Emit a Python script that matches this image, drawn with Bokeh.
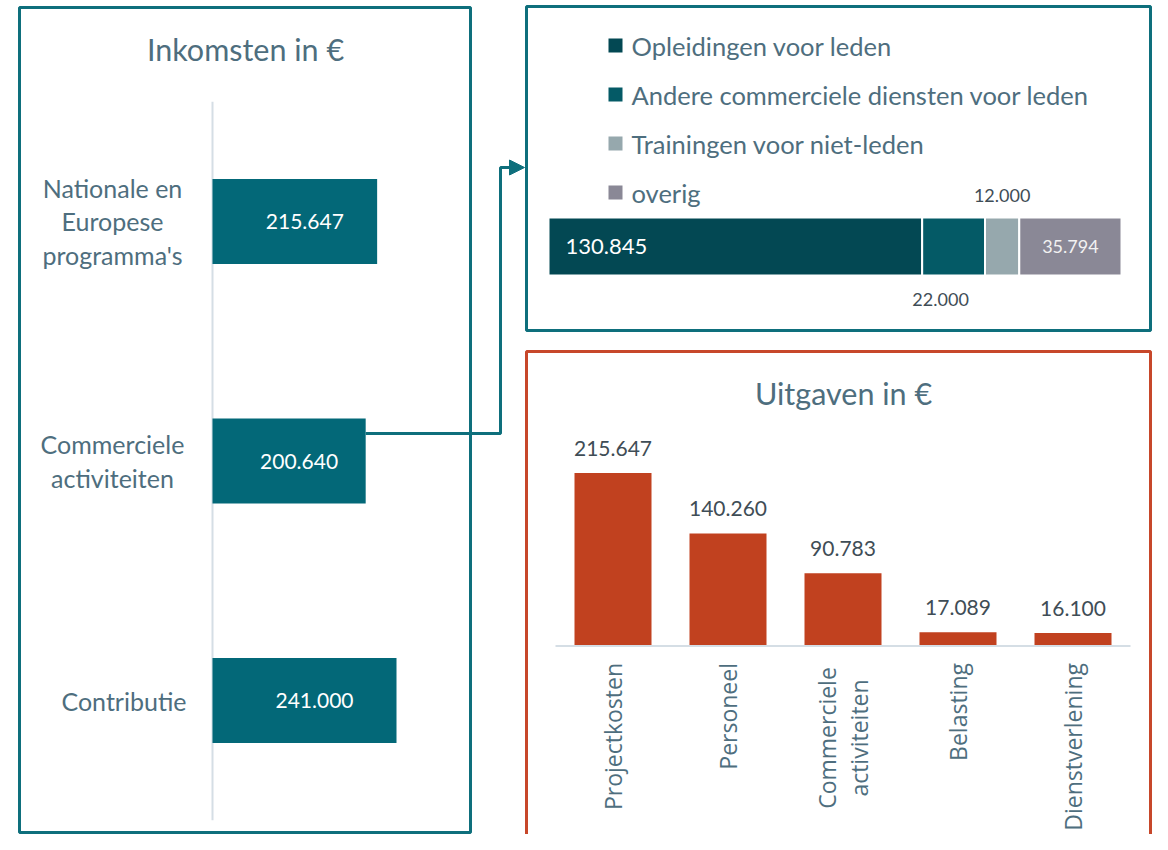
import numpy as np
from bokeh.plotting import figure
from bokeh.models import Range1d, Arrow, NormalHead
from bokeh.core.properties import value
from bokeh.embed import file_html
from bokeh.resources import INLINE

# ---------------- data ----------------
inc_categories = ["Nationale en\nEuropese\nprogramma's", "Commerciele\nactiviteiten", "Contributie"]
inc_values = [215647, 200640, 241000]

com_categories = ["Opleidingen voor leden", "Andere commerciele diensten voor leden",
                  "Trainingen voor niet-leden", "overig"]
com_values = [130845, 22000, 12000, 35794]

exp_categories = ["Projectkosten", "Personeel", "Commerciele\nactiviteiten", "Belasting", "Dienstverlening"]
exp_values = [215647, 140260, 90783, 17089, 16100]

inc_title = "Inkomsten in €"
exp_title = "Uitgaven in €"

# ---------------- styles ----------------
TEAL = "#036878"
BORDER_TEAL = "#0e6f7c"
ORANGE = "#c1411f"
BORDER_ORANGE = "#c7472a"
TXT = "#4e6e7e"
DARK_TXT = "#3f4d56"
AXIS = "#d5dee5"
COM_COLORS = ["#034853", "#045a66", "#96a8ad", "#8a8896"]
FONT = value("Lato")
FONT2 = value("Open Sans")


def fmt(v):
    return f"{v:,}".replace(",", ".")


W, H = 1152, 834
PL, PT = 0, 0
PR, PB = PL + W, PT + H


def xr(d0, p0, s):
    return Range1d(d0 + (PL - p0) / s, d0 + (PR - p0) / s)


def yr_up(d0, p0, s):
    return Range1d(d0 + (p0 - PB) / s, d0 + (p0 - PT) / s)


def yr_down(d0, p0, s):
    return Range1d(d0 + (PB - p0) / s, d0 + (PT - p0) / s)


p = figure(width=W, height=H, output_backend="svg", toolbar_location=None,
           x_range=Range1d(PL, PR), y_range=Range1d(PB, PT),
           x_axis_location=None, y_axis_location=None, min_border=0,
           outline_line_color=None)
p.grid.visible = False
p.background_fill_color = "white"
p.border_fill_color = "white"

# scales
s_inc = 184 / max(inc_values)
s_com = 573 / sum(com_values)
s_exp = 173 / max(exp_values)
p.extra_x_ranges = {
    "inc": xr(0, 212, s_inc),
    "com": xr(0, 548, s_com),
    "exp": xr(0, 612.5, 115),
}
p.extra_y_ranges = {
    "inc": yr_down(0, 221, 239.5),
    "com": yr_down(0, 246, 100),
    "leg": yr_down(0, 45, 49),
    "exp": yr_up(0, 645.5, s_exp),
}

# ---------------- panel frames ----------------
p.quad(left=[19, 526, 526], right=[470, 1150, 1150], top=[7, 6, 351], bottom=[832, 330, 900],
       fill_color=None, line_color=[BORDER_TEAL, BORDER_TEAL, BORDER_ORANGE], line_width=3)

# ---------------- income panel ----------------
p.text(x=[245], y=[48], text=[inc_title], text_font=FONT, text_font_size="30.5px",
       text_color=TXT, text_align="center", text_baseline="middle")

inc_idx = list(range(len(inc_categories)))
p.segment(x0=[0], x1=[0], y0=[-0.5], y1=[len(inc_categories) - 0.5], line_color=AXIS,
          line_width=2, x_range_name="inc", y_range_name="inc")
p.hbar(y=inc_idx, left=0, right=inc_values, height=85 / 239.5, fill_color=TEAL, line_color=None,
       x_range_name="inc", y_range_name="inc")
p.text(x=[v / 2 for v in inc_values], y=inc_idx, text=[fmt(v) for v in inc_values],
       x_offset=10, text_font=FONT, text_font_size="21px", text_color="white",
       text_align="center", text_baseline="middle", x_range_name="inc", y_range_name="inc")

multi = [i for i, c in enumerate(inc_categories) if "\n" in c]
single = [i for i, c in enumerate(inc_categories) if "\n" not in c]
p.text(x=[0] * len(multi), y=multi, text=[inc_categories[i] for i in multi], x_offset=-100,
       text_font=FONT, text_font_size="25px", text_color=TXT, text_align="center",
       text_baseline="middle", text_line_height=1.12, x_range_name="inc", y_range_name="inc")
p.text(x=[0] * len(single), y=single, text=[inc_categories[i] for i in single], x_offset=-26,
       text_font=FONT, text_font_size="25px", text_color=TXT, text_align="right",
       text_baseline="middle", x_range_name="inc", y_range_name="inc")

# connector arrow from "Commerciele activiteiten" bar to the breakdown panel
x_start = 212 + inc_values[1] * s_inc
p.line(x=[x_start, 500, 500, 511], y=[433, 433, 167, 167], line_color=BORDER_TEAL, line_width=3)
p.add_layout(Arrow(end=NormalHead(size=15, fill_color=BORDER_TEAL, line_color=BORDER_TEAL),
                   x_start=508, y_start=167, x_end=524, y_end=167,
                   line_color=BORDER_TEAL, line_width=3))

# ---------------- commercial breakdown panel ----------------
cum = np.cumsum([0] + com_values)
lefts, rights = cum[:-1], cum[1:]
mids = (lefts + rights) / 2
p.hbar(y=[0] * len(com_values), left=lefts, right=rights, height=0.58, fill_color=COM_COLORS,
       line_color="white", line_width=2, x_range_name="com", y_range_name="com")

leg_idx = list(range(len(com_categories)))
p.scatter(x=[615] * len(leg_idx), y=leg_idx, marker="square", size=14, fill_color=COM_COLORS,
          line_color=None, y_range_name="leg")
p.text(x=[631] * len(leg_idx), y=leg_idx, text=com_categories, text_font=FONT,
       text_font_size="25.5px", text_color=TXT, text_align="left", text_baseline="middle",
       y_range_name="leg")

lab = [fmt(v) for v in com_values]
p.text(x=[lefts[0]], y=[0], text=[lab[0]], x_offset=17, text_font=FONT, text_font_size="22px",
       text_color="white", text_align="left", text_baseline="middle",
       x_range_name="com", y_range_name="com")
p.text(x=[mids[1]], y=[0], text=[lab[1]], x_offset=-13, y_offset=53, text_font=FONT,
       text_font_size="18px", text_color=DARK_TXT, text_align="center", text_baseline="middle",
       x_range_name="com", y_range_name="com")
p.text(x=[mids[2]], y=[0], text=[lab[2]], y_offset=-51, text_font=FONT,
       text_font_size="18px", text_color=DARK_TXT, text_align="center", text_baseline="middle",
       x_range_name="com", y_range_name="com")
p.text(x=[mids[3]], y=[0], text=[lab[3]], text_font=FONT,
       text_font_size="18px", text_color="#f2f2f2", text_align="center", text_baseline="middle",
       x_range_name="com", y_range_name="com")

# ---------------- expenses panel ----------------
p.text(x=[843], y=[392], text=[exp_title], text_font=FONT, text_font_size="30.5px",
       text_color=TXT, text_align="center", text_baseline="middle")
exp_idx = list(range(len(exp_categories)))
p.vbar(x=exp_idx, top=exp_values, bottom=0, width=77 / 115, fill_color=ORANGE, line_color=None,
       x_range_name="exp", y_range_name="exp")
p.segment(x0=[-0.5], x1=[len(exp_categories) - 0.5], y0=[0], y1=[0], line_color=AXIS,
          line_width=2, x_range_name="exp", y_range_name="exp")
p.text(x=exp_idx, y=exp_values, text=[fmt(v) for v in exp_values], y_offset=-25,
       text_font=FONT, text_font_size="21px", text_color=DARK_TXT, text_align="center",
       text_baseline="middle", x_range_name="exp", y_range_name="exp")

e_single = [i for i, c in enumerate(exp_categories) if "\n" not in c]
e_multi = [i for i, c in enumerate(exp_categories) if "\n" in c]
p.text(x=e_single, y=[0] * len(e_single), text=[exp_categories[i] for i in e_single],
       angle=np.pi / 2, y_offset=17, text_font=FONT2, text_font_size="23px", text_color=TXT,
       text_align="right", text_baseline="middle", x_range_name="exp", y_range_name="exp")
p.text(x=e_multi, y=[0] * len(e_multi), text=[exp_categories[i] for i in e_multi],
       angle=np.pi / 2, y_offset=92, text_font=FONT2, text_font_size="23px", text_color=TXT,
       text_align="center", text_baseline="middle", text_line_height=0.98,
       x_range_name="exp", y_range_name="exp")

open("out.html", "w").write(file_html(p, INLINE))
